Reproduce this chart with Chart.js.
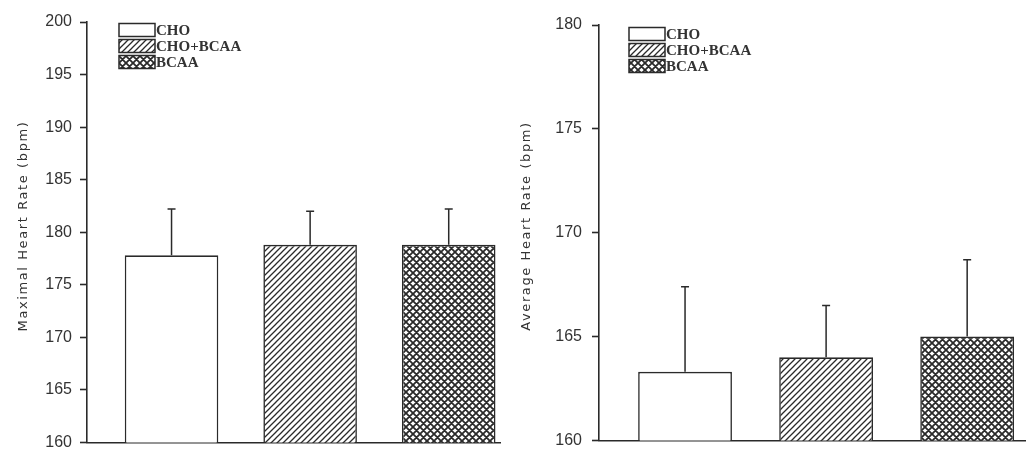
<!DOCTYPE html>
<html><head><meta charset="utf-8">
<script src="https://cdn.jsdelivr.net/npm/chart.js@4.4.1/dist/chart.umd.min.js"></script>
<style>
html,body{margin:0;padding:0;background:#fff;width:1028px;height:460px;overflow:hidden}
canvas{position:absolute;top:0}
#c1{left:0} #c2{left:512px}
</style></head><body>
<canvas id="c1" width="512" height="460"></canvas>
<canvas id="c2" width="516" height="460"></canvas>
<script>
// ---- data ----
const categories = ['CHO', 'CHO+BCAA', 'BCAA'];
const maxHR   = [177.8, 178.8, 178.8];
const maxHRsd = [4.4, 3.2, 3.4];
const avgHR   = [163.3, 164.0, 165.0];
const avgHRsd = [4.1, 2.5, 3.7];
const maxTicks = [160, 165, 170, 175, 180, 185, 190, 195, 200];
const avgTicks = [160, 165, 170, 175, 180];
const maxTitle = 'Maximal Heart Rate (bpm)';
const avgTitle = 'Average Heart Rate (bpm)';

const INK = '#2a2a2a';
const TEXT = '#333333';

function tile(n, draw){
  const c = document.createElement('canvas'); c.width = c.height = n;
  const g = c.getContext('2d');
  g.fillStyle = '#fff'; g.fillRect(0,0,n,n);
  g.strokeStyle = INK; draw(g, n);
  return g.createPattern(c, 'repeat');
}
const hatch = tile(6, (g,n)=>{ g.lineWidth = 1.3; g.beginPath();
  g.moveTo(-1,n+1); g.lineTo(n+1,-1); g.moveTo(-1,1); g.lineTo(1,-1); g.moveTo(n-1,n+1); g.lineTo(n+1,n-1); g.stroke(); });
const cross = tile(7, (g,n)=>{ g.lineWidth = 1.8; g.beginPath();
  g.moveTo(-1,n+1); g.lineTo(n+1,-1); g.moveTo(-1,1); g.lineTo(1,-1); g.moveTo(n-1,n+1); g.lineTo(n+1,n-1);
  g.moveTo(-1,-1); g.lineTo(n+1,n+1); g.moveTo(-1,n-1); g.lineTo(1,n+1); g.moveTo(n-1,-1); g.lineTo(n+1,1); g.stroke(); });
const fills = ['#ffffff', hatch, cross];

const errorBars = {
  id: 'errorBars',
  afterDatasetsDraw(chart, args, o){
    const ctx = chart.ctx, ys = chart.scales.y, meta = chart.getDatasetMeta(0), ds = chart.data.datasets[0];
    ctx.save(); ctx.strokeStyle = INK; ctx.lineWidth = 1.5;
    meta.data.forEach((bar, i) => {
      const v = ds.data[i].y;
      const base = ys.getPixelForValue(v), top = ys.getPixelForValue(v + o.sd[i]);
      ctx.beginPath();
      ctx.moveTo(bar.x, base); ctx.lineTo(bar.x, top);
      ctx.moveTo(bar.x - 4, top); ctx.lineTo(bar.x + 4, top);
      ctx.stroke();
    });
    ctx.restore();
  }
};
const boxLegend = {
  id: 'boxLegend',
  afterDraw(chart, args, o){
    const ctx = chart.ctx, a = chart.chartArea, ds = chart.data.datasets[0];
    ctx.save();
    ctx.font = 'bold 15px "Liberation Serif"'; ctx.textBaseline = 'middle'; ctx.textAlign = 'left';
    chart.data.labels.forEach((lab, i) => {
      const x = a.left + o.dx, cy = a.top + o.dy + i * o.gap;
      ctx.fillStyle = ds.backgroundColor[i]; ctx.fillRect(x, cy - 6.5, 36, 13);
      ctx.strokeStyle = INK; ctx.lineWidth = 1.5; ctx.strokeRect(x, cy - 6.5, 36, 13);
      ctx.fillStyle = TEXT; ctx.fillText(lab, x + 37, cy + 1);
    });
    ctx.restore();
  }
};
const axisTitle = {
  id: 'axisTitle',
  afterDraw(chart, args, o){
    const ctx = chart.ctx;
    ctx.save();
    ctx.translate(o.x, o.y); ctx.rotate(-Math.PI / 2);
    ctx.font = '13px "DejaVu Sans"'; ctx.letterSpacing = '1.6px';
    ctx.fillStyle = TEXT; ctx.textAlign = 'center'; ctx.textBaseline = 'middle';
    ctx.fillText(o.text, 0, 0);
    ctx.restore();
  }
};

function makeChart(id, vals, sd, ticks, title, o){
  return new Chart(document.getElementById(id), {
    type: 'bar',
    data: {
      labels: categories,
      datasets: [{
        data: categories.map((c, i) => ({x: i + 1, y: vals[i]})),
        backgroundColor: fills,
        borderColor: INK, borderWidth: 1.6,
        barPercentage: o.barPct, categoryPercentage: 1
      }]
    },
    options: {
      responsive: false, animation: false, events: [],
      layout: {padding: o.pad},
      plugins: {
        legend: {display: false}, tooltip: {enabled: false},
        errorBars: {sd: sd},
        boxLegend: o.legend,
        axisTitle: {text: title, x: o.titleX, y: o.titleY}
      },
      scales: {
        x: {
          type: 'linear', min: o.xmin, max: o.xmax, offset: false,
          afterBuildTicks: s => { s.ticks = categories.map((c, i) => ({value: i + 1})); },
          afterFit: s => { s.height = 0; },
          ticks: {display: false}, grid: {display: false},
          border: {display: true, color: INK, width: 1.6}
        },
        y: {
          min: ticks[0], max: ticks[ticks.length - 1],
          afterBuildTicks: s => { s.ticks = ticks.map(v => ({value: v})); },
          afterFit: s => { s.width = 87; },
          border: {display: true, color: INK, width: 1.6},
          grid: {display: true, drawOnChartArea: false, drawTicks: true, tickLength: 7, tickColor: INK, tickWidth: 1.6},
          ticks: {font: {family: '"Liberation Sans"', size: 16}, color: TEXT, padding: o.tickPad},
          title: {display: false}
        }
      }
    },
    plugins: [errorBars, boxLegend, axisTitle]
  });
}

makeChart('c1', maxHR, maxHRsd, maxTicks, maxTitle, {
  pad: {top: 22, bottom: 8, left: 0, right: 12},
  xmin: 0.39, xmax: 3.37, barPct: 0.675, tickPad: 8,
  legend: {dx: 32, dy: 8, gap: 16},
  titleX: 24, titleY: 226
});
makeChart('c2', avgHR, avgHRsd, avgTicks, avgTitle, {
  pad: {top: 25, bottom: 7, left: 0, right: 3},
  xmin: 0.39, xmax: 3.41, barPct: 0.665, tickPad: 10,
  legend: {dx: 30, dy: 9, gap: 16},
  titleX: 15, titleY: 226
});
</script>
</body></html>
